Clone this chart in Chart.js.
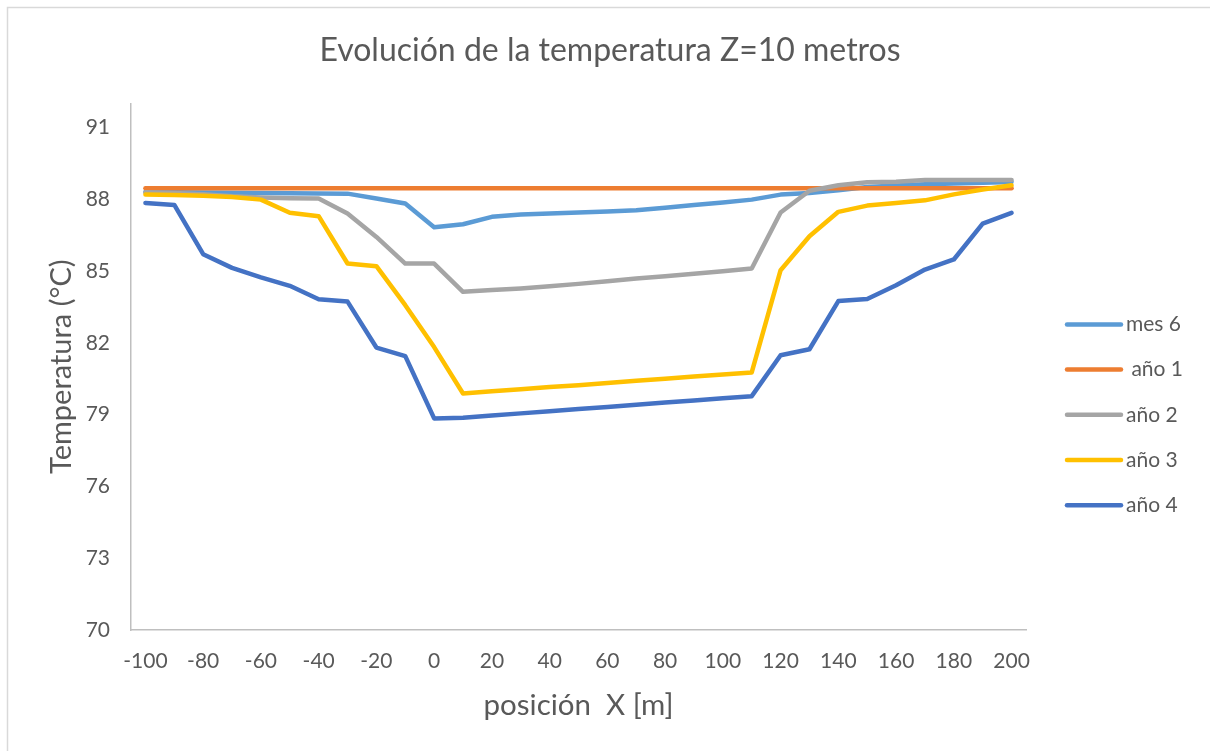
<!DOCTYPE html>
<html>
<head>
<meta charset="utf-8">
<script src="https://cdn.jsdelivr.net/npm/chart.js@4.4.0/dist/chart.umd.min.js"></script>
<style>
    html, body { margin: 0; padding: 0; background: #ffffff; }
    canvas { display: block; }
</style>
</head>
<body>
<canvas id="chart" width="1210" height="751"></canvas>
<script>
// posición X [m]
const positions = [-100, -90, -80, -70, -60, -50, -40, -30, -20, -10, 0, 10, 20, 30, 40, 50,
    60, 70, 80, 90, 100, 110, 120, 130, 140, 150, 160, 170, 180, 190, 200];

// temperatura (°C) a Z = 10 m
const mes6 = [88.30, 88.29, 88.28, 88.27, 88.26, 88.25, 88.24, 88.23, 88.03, 87.82, 86.83, 86.95,
    87.26, 87.36, 87.40, 87.44, 87.48, 87.54, 87.64, 87.76, 87.86, 87.98, 88.19, 88.26, 88.37,
    88.51, 88.57, 88.62, 88.65, 88.69, 88.72];
const anio1 = [88.45, 88.45, 88.45, 88.45, 88.45, 88.45, 88.45, 88.45, 88.45, 88.45, 88.45, 88.45,
    88.45, 88.45, 88.45, 88.45, 88.45, 88.45, 88.45, 88.45, 88.45, 88.45, 88.45, 88.45, 88.45,
    88.45, 88.45, 88.45, 88.45, 88.45, 88.45];
const anio2 = [88.29, 88.26, 88.20, 88.12, 88.07, 88.04, 88.03, 87.40, 86.42, 85.31, 85.31, 84.13,
    84.20, 84.27, 84.36, 84.46, 84.57, 84.68, 84.78, 84.88, 84.99, 85.10, 87.44, 88.35, 88.58,
    88.71, 88.73, 88.80, 88.80, 88.80, 88.80];
const anio3 = [88.19, 88.17, 88.14, 88.09, 87.98, 87.43, 87.29, 85.31, 85.20, 83.57, 81.82, 79.88,
    79.97, 80.06, 80.15, 80.23, 80.32, 80.41, 80.50, 80.59, 80.67, 80.76, 85.03, 86.45, 87.47,
    87.73, 87.84, 87.95, 88.20, 88.40, 88.58];
const anio4 = [87.84, 87.76, 85.70, 85.13, 84.73, 84.38, 83.82, 83.72, 81.80, 81.44, 78.84, 78.87,
    78.96, 79.05, 79.14, 79.23, 79.32, 79.41, 79.50, 79.59, 79.68, 79.77, 81.48, 81.73, 83.74,
    83.83, 84.40, 85.06, 85.48, 86.98, 87.43];

const seriesNames = ['mes 6', ' año 1', 'año 2', 'año 3', 'año 4'];
const seriesColors = ['#5B9BD5', '#ED7D31', '#A5A5A5', '#FFC000', '#4472C4'];
const yTicks = [70, 73, 76, 79, 82, 85, 88, 91];

const FONT = 'Lato, "Open Sans", sans-serif';
const TEXT = '#595959';
const AXIS = '#BFBFBF';

// white background and the light frame of the chart area
const frame = {
    id: 'frame',
    beforeDraw(chart) {
        const ctx = chart.ctx;
        ctx.save();
        ctx.fillStyle = '#ffffff';
        ctx.fillRect(0, 0, chart.width, chart.height);
        ctx.strokeStyle = '#D9D9D9';
        ctx.lineWidth = 1.5;
        ctx.strokeRect(7.5, 7.5, chart.width + 20, chart.height + 20);
        ctx.restore();
    }
};

// legend as its own layout box on the right, so the title stays centred on the whole canvas
const sideLegend = {
    id: 'sideLegend',
    beforeInit(chart) {
        const box = {
            position: 'right',
            weight: 0,
            fullSize: false,
            options: {},
            left: 0, top: 0, right: 0, bottom: 0, width: 0, height: 0,
            isHorizontal() { return false; },
            update(maxWidth, maxHeight) {
                this.width = 184;
                this.height = maxHeight;
            },
            draw() {
                const ctx = chart.ctx;
                const x0 = this.left + 41;
                let y = chart.chartArea.top + 221;
                ctx.save();
                ctx.font = '21px ' + FONT;
                ctx.textBaseline = 'middle';
                ctx.textAlign = 'left';
                ctx.lineCap = 'round';
                chart.data.datasets.forEach(ds => {
                    ctx.strokeStyle = ds.borderColor;
                    ctx.lineWidth = 4.5;
                    ctx.beginPath();
                    ctx.moveTo(x0, y);
                    ctx.lineTo(x0 + 54, y);
                    ctx.stroke();
                    ctx.fillStyle = TEXT;
                    ctx.fillText(ds.label, x0 + 59, y);
                    y += 45.2;
                });
                ctx.restore();
            }
        };
        if (Chart.layouts && Chart.layouts.addBox) {
            Chart.layouts.addBox(chart, box);
        } else {
            box._layers = () => [{z: 0, draw: () => box.draw()}];
            chart.boxes.push(box);
        }
    }
};

const seriesData = [mes6, anio1, anio2, anio3, anio4];

new Chart(document.getElementById('chart'), {
    type: 'line',
    data: {
        labels: positions,
        datasets: seriesData.map((values, i) => ({
            label: seriesNames[i],
            data: values,
            borderColor: seriesColors[i],
            backgroundColor: seriesColors[i],
            borderWidth: 4.5,
            pointRadius: 0,
            tension: 0,
            fill: false,
            borderJoinStyle: 'round',
            borderCapStyle: 'round',
            // later series drawn on top
            order: seriesData.length - i
        }))
    },
    options: {
        responsive: false,
        animation: false,
        devicePixelRatio: 1,
        layout: {
            padding: {left: 10, right: 0, top: 0, bottom: 10}
        },
        plugins: {
            legend: {display: false},
            tooltip: {enabled: false},
            title: {
                display: true,
                text: 'Evolución de la temperatura Z=10 metros',
                color: TEXT,
                font: {family: FONT, size: 32, weight: 'normal'},
                padding: {top: 31, bottom: 34}
            }
        },
        scales: {
            x: {
                type: 'category',
                offset: true,
                grid: {display: false, drawTicks: false},
                border: {display: true, color: AXIS, width: 1.5},
                ticks: {
                    autoSkip: false,
                    maxRotation: 0,
                    padding: 19,
                    color: TEXT,
                    font: {family: FONT, size: 21},
                    callback(value, index) {
                        return index % 2 === 0 ? this.getLabelForValue(value) : '';
                    }
                },
                title: {
                    display: true,
                    text: 'posición  X [m]',
                    color: TEXT,
                    font: {family: FONT, size: 29.5},
                    padding: {top: 0, bottom: 18}
                },
                afterFit(scale) {
                    scale.height = 111;
                }
            },
            y: {
                min: 70,
                max: 92,
                grid: {display: false, drawTicks: false},
                border: {display: true, color: AXIS, width: 1.5},
                ticks: {
                    padding: 21,
                    color: TEXT,
                    font: {family: FONT, size: 21}
                },
                afterBuildTicks(scale) {
                    scale.ticks = yTicks.map(v => ({value: v}));
                },
                title: {
                    display: true,
                    text: 'Temperatura (°C)',
                    color: TEXT,
                    font: {family: FONT, size: 29},
                    padding: {top: 34, bottom: 0}
                },
                afterFit(scale) {
                    scale.width = 121;
                }
            }
        }
    },
    plugins: [frame, sideLegend]
});
</script>
</body>
</html>
